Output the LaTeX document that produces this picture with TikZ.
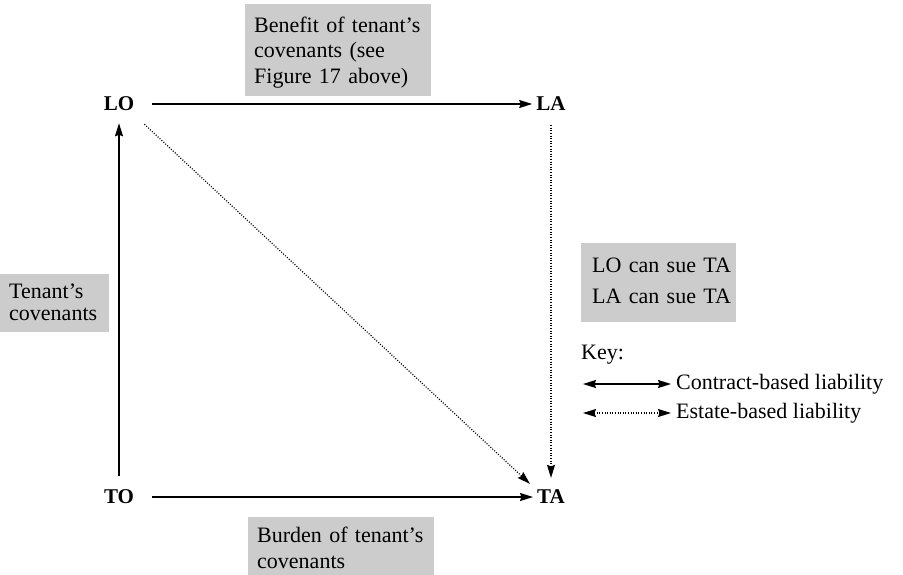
\documentclass[tikz,border=0pt]{standalone}
\usepackage{fontspec}
\setmainfont{Liberation Serif}
\usetikzlibrary{arrows.meta}
\definecolor{boxgray}{HTML}{CCCCCC}
\newcommand{\topstrut}[1]{\rule{0pt}{#1}}
\newcommand{\botstrut}[1]{\rule[-#1]{0pt}{#1}}
\begin{document}
\begin{tikzpicture}[x=1pt,y=-1pt,
  lbl/.style={font=\fontsize{21}{27}\selectfont\bfseries, inner sep=0pt},
  graybox/.style={fill=boxgray, align=left, inner xsep=9pt, inner ysep=8pt, anchor=north west},
  keytext/.style={font=\fontsize{22}{27}\selectfont, inner sep=0pt, anchor=west},
  solidarrow/.style={line width=1.6pt, -{Stealth[length=13pt,width=8pt,inset=1.5pt]}},
  dotarrow/.style={line width=1.2pt, dash pattern=on 1pt off 1.6pt, -{Stealth[length=13pt,width=8pt,inset=1.5pt]}}]
\useasboundingbox (0,0) rectangle (903,574);

% corner labels
\node[lbl] (LO) at (119,104) {LO};
\node[lbl] (LA) at (551,104) {LA};
\node[lbl] (TO) at (119,497) {TO};
\node[lbl] (TA) at (551,497) {TA};

% gray boxes
\node[graybox, text width=168pt, font=\fontsize{22}{25.5}\selectfont] (benefit) at (245,4)
  {\topstrut{20pt}Benefit of tenant's\\covenants (see\\Figure 17 above)\botstrut{4pt}};
\node[graybox, text width=91pt, font=\fontsize{22}{22}\selectfont] (tencov) at (0,274)
  {\topstrut{16pt}Tenant's\\covenants\botstrut{4pt}};
\node[graybox, text width=168pt, font=\fontsize{22}{26}\selectfont] (burden) at (248,517)
  {\topstrut{17pt}Burden of tenant's\\covenants\botstrut{12pt}};
\node[graybox, text width=145pt, inner xsep=5pt, font=\fontsize{22}{31}\selectfont] (sue) at (581,243)
  {\topstrut{21pt}\hspace*{6pt}LO can sue TA\\\hspace*{6pt}LA can sue TA\botstrut{11pt}};

% main arrows
\draw[solidarrow, shorten <=18pt, shorten >=4pt] (LO) -- (LA);
\draw[solidarrow, shorten <=18pt, shorten >=4pt] (TO) -- (TA);
\draw[solidarrow, shorten <=14pt, shorten >=12pt] (TO) -- (LO);
\draw[dotarrow, shorten <=14pt, shorten >=12pt] (LA) -- (TA);
\draw[dotarrow] ([shift={(10,13)}]LO.south east) -- ([shift={(-7,-6)}]TA.north west);

% key
\node[keytext] (key) at (581,355) {Key:};
\coordinate (k1a) at (583,384);
\coordinate (k1b) at (671,384);
\coordinate (k2a) at (583,413);
\coordinate (k2b) at (671,413);
\draw[line width=1.6pt, {Stealth[length=13pt,width=8pt,inset=1.5pt]}-{Stealth[length=13pt,width=8pt,inset=1.5pt]}] (k1a) -- (k1b);
\draw[line width=1.2pt, dash pattern=on 1pt off 1.6pt, {Stealth[length=13pt,width=8pt,inset=1.5pt]}-{Stealth[length=13pt,width=8pt,inset=1.5pt]}] (k2a) -- (k2b);
\node[keytext] (contract) at (676,384) {Contract-based liability};
\node[keytext] (estate) at (676,413) {Estate-based liability};
\end{tikzpicture}
\end{document}
